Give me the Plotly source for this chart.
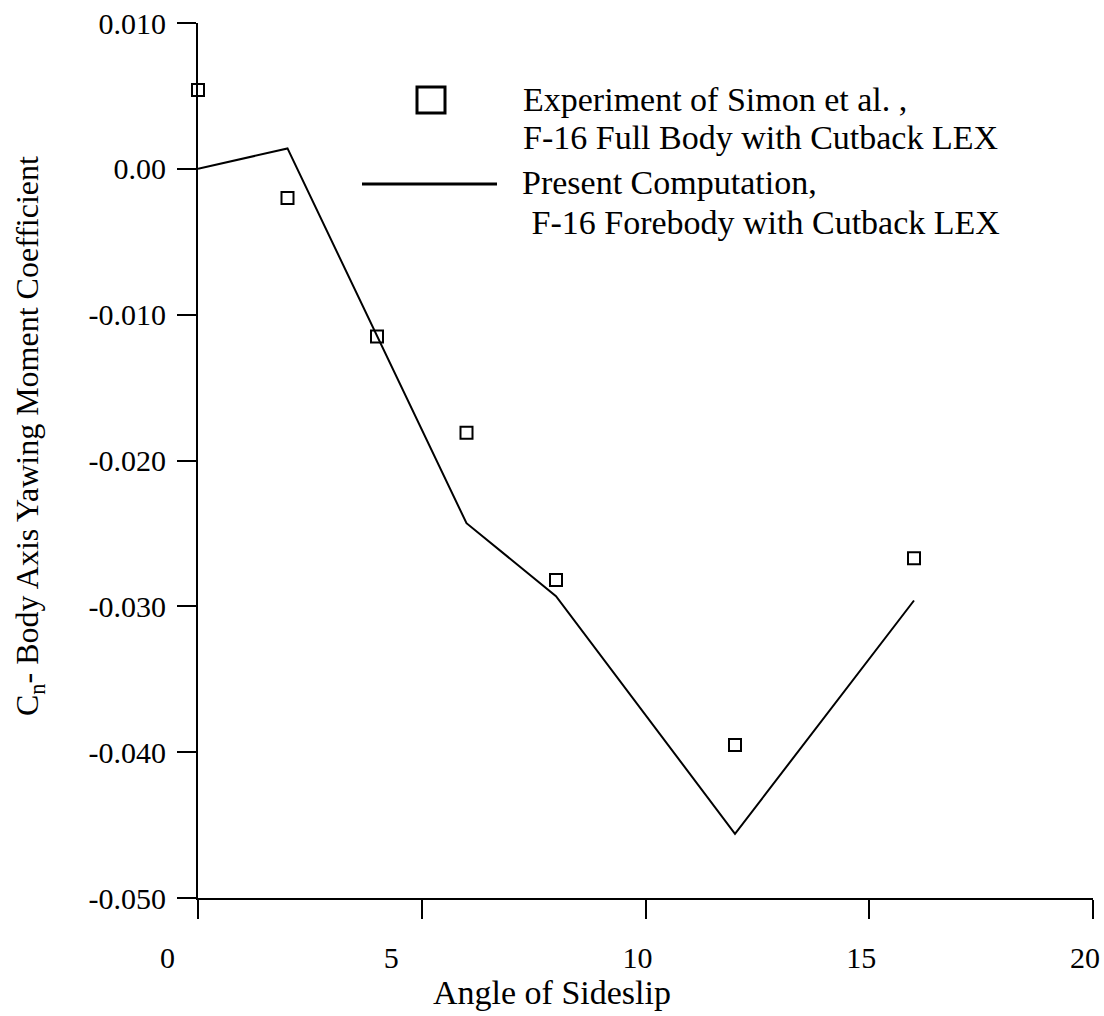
import plotly.graph_objects as go

# ---- data ----
angle_exp = [0, 2, 4, 6, 8, 12, 16]
cn_exp = [0.0054, -0.0020, -0.0115, -0.0181, -0.0282, -0.0395, -0.0267]

angle_cfd = [0, 2, 6, 8, 12, 16]
cn_cfd = [0.0000, 0.0014, -0.0243, -0.0293, -0.0456, -0.0296]

x_ticks = [0, 5, 10, 15, 20]
x_ticktext = ["0\u2003\u2002", "5\u2003\u2002", "10", "15", "20"]
y_ticks = [0.010, 0.0, -0.010, -0.020, -0.030, -0.040, -0.050]
y_ticktext = ["0.010", "0.00", "-0.010", "-0.020", "-0.030", "-0.040", "-0.050"]

legend_exp = ["Experiment of Simon et al. ,", "F-16 Full Body with Cutback LEX"]
legend_cfd = ["Present Computation,", " F-16 Forebody with Cutback LEX"]
x_title = "Angle of Sideslip"
y_title = "C<sub>n</sub>- Body Axis Yawing Moment Coefficient"

FONT = "Liberation Serif"
W, H = 1104, 1016
ML, MT = 198, 23
MR = 1104 - 1093
MB = 1016 - 898
PW, PH = W - ML - MR, H - MT - MB


def px(xp):
    return (xp - ML) / PW


def py(yp):
    return (H - MB - yp) / PH


fig = go.Figure()
fig.add_trace(go.Scatter(
    x=angle_cfd, y=cn_cfd, mode="lines",
    line=dict(color="black", width=2), showlegend=False,
))
fig.add_trace(go.Scatter(
    x=angle_exp, y=cn_exp, mode="markers",
    marker=dict(symbol="square-open", size=12, color="black",
                line=dict(color="black", width=2)),
    cliponaxis=False, showlegend=False,
))

# custom legend
fig.add_shape(type="rect", xref="paper", yref="paper",
              x0=px(417), x1=px(445), y0=py(113), y1=py(87),
              line=dict(color="black", width=3), fillcolor="rgba(0,0,0,0)")
fig.add_shape(type="line", xref="paper", yref="paper",
              x0=px(362), x1=px(497), y0=py(184), y1=py(184),
              line=dict(color="black", width=3))

ann = []
for txt, xx, yy in [(legend_exp[0], 521, 100), (legend_exp[1], 521, 137),
                    (legend_cfd[0], 520, 182), (legend_cfd[1], 521, 222)]:
    ann.append(dict(text=txt, xref="paper", yref="paper", x=px(xx), y=py(yy),
                    xanchor="left", yanchor="middle", showarrow=False,
                    font=dict(family=FONT, size=34, color="black")))
ann.append(dict(text=x_title, xref="paper", yref="paper", x=px(552), y=py(992),
                xanchor="center", yanchor="middle", showarrow=False,
                font=dict(family=FONT, size=34, color="black")))
ann.append(dict(text=y_title, xref="paper", yref="paper", x=px(29), y=py(436),
                xanchor="center", yanchor="middle", showarrow=False, textangle=-90,
                font=dict(family=FONT, size=32, color="black")))

fig.update_layout(
    width=W, height=H,
    margin=dict(l=ML, r=MR, t=MT, b=MB, autoexpand=False),
    paper_bgcolor="white", plot_bgcolor="white",
    font=dict(family=FONT, size=30, color="black"),
    annotations=ann,
    showlegend=False,
    xaxis=dict(range=[0, 20], tickvals=x_ticks, ticktext=x_ticktext,
               showline=True, linecolor="black", linewidth=2,
               ticks="outside", ticklen=19, tickwidth=2, tickcolor="black",
               showgrid=False, zeroline=False, ticklabelstandoff=13,
               ticklabelshift=-8, ticklabeloverflow="allow", automargin=False,
               tickfont=dict(family=FONT, size=30, color="black")),
    yaxis=dict(range=[-0.050, 0.010], tickvals=y_ticks, ticktext=y_ticktext,
               showline=True, linecolor="black", linewidth=2,
               ticks="outside", ticklen=19, tickwidth=2, tickcolor="black",
               showgrid=False, zeroline=False, ticklabelstandoff=5,
               ticklabeloverflow="allow", automargin=False,
               tickfont=dict(family=FONT, size=30, color="black")),
)

fig.write_html(
    "out.html",
    config={"displayModeBar": False},
    post_script="document.body.style.margin='0';document.body.style.overflow='hidden';",
)
